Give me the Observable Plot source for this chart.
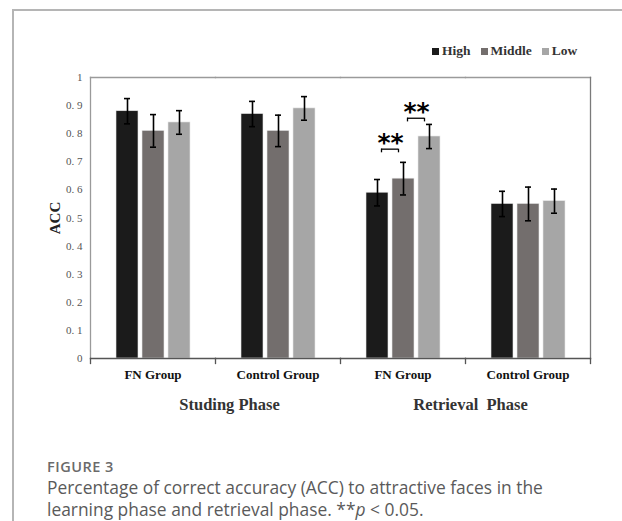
<!DOCTYPE html>
<html><head><meta charset="utf-8">
<script src="https://cdn.jsdelivr.net/npm/d3@7"></script>
<script src="https://cdn.jsdelivr.net/npm/@observablehq/plot@0.6"></script>
<style>
html,body{margin:0;padding:0;background:#fff;}
body{width:622px;height:521px;position:relative;}
#frame{position:absolute;left:12px;top:9px;width:608px;height:510px;border-left:2px solid #b5b5b5;border-top:2px solid #b5b5b5;}
#chart{position:absolute;left:0;top:0;}
#chart text{white-space:pre;}
#legend{position:absolute;left:432px;top:43px;display:flex;align-items:center;font-family:"Liberation Serif",serif;font-weight:bold;font-size:13.5px;color:#333;}
#legend .item{display:flex;align-items:center;margin-right:10px;}
#legend .sw{width:7px;height:7px;margin-right:3px;display:inline-block;}
#fig{position:absolute;left:47px;top:458px;line-height:17px;font-family:"Open Sans",sans-serif;font-weight:600;font-size:14.5px;letter-spacing:0.5px;color:#6a6a6a;}
#cap{position:absolute;left:47px;top:476px;white-space:nowrap;font-family:"Open Sans",sans-serif;font-size:17.4px;line-height:22px;color:#5a5a5a;}
</style>
</head><body>
<div id="frame"></div>
<div id="chart"></div>
<div id="legend"></div>
<div id="fig">FIGURE 3</div>
<div id="cap">Percentage of correct accuracy (ACC) to attractive faces in the<br>learning phase and retrieval phase. **<i>p</i> &lt; 0.05.</div>
<script>
// ---- data ----
const groups = ["S-FN", "S-CG", "R-FN", "R-CG"];
const groupLabels = ["FN Group", "Control Group", "FN Group", "Control Group"];
const levels = ["High", "Middle", "Low"];
const levelColors = ["#1b1b1b", "#736e6d", "#a6a6a6"];
const highValues = [0.88, 0.87, 0.59, 0.55];
const middleValues = [0.81, 0.81, 0.64, 0.55];
const lowValues = [0.84, 0.89, 0.79, 0.56];
const highErr = [0.045, 0.045, 0.047, 0.045];
const middleErr = [0.058, 0.056, 0.058, 0.06];
const lowErr = [0.042, 0.042, 0.043, 0.043];
const phases = ["Studing Phase", "Retrieval  Phase"];
const phaseFirstGroup = ["S-FN", "R-FN"];
const yTicks = [0, 0.1, 0.2, 0.3, 0.4, 0.5, 0.6, 0.7, 0.8, 0.9, 1];
const yTickLabels = ["0", "0. 1", "0. 2", "0. 3", "0. 4", "0. 5", "0. 6", "0. 7", "0. 8", "0. 9", "1"];
const sigGroup = ["R-FN", "R-FN"];
const sigFrom = ["High", "Middle"];
const sigTo = ["Middle", "Low"];
const sigY = [0.745, 0.855];
const sigLabel = ["**", "**"];

// ---- tables ----
const valueSets = [highValues, middleValues, lowValues];
const errSets = [highErr, middleErr, lowErr];
const rows = [];
groups.forEach((g, gi) => levels.forEach((l, li) => rows.push({group: g, level: l, value: valueSets[li][gi], err: errSets[li][gi]})));
const sig = sigGroup.map((g, i) => ({group: g, from: sigFrom[i], to: sigTo[i], y: sigY[i], label: sigLabel[i]}));

const W = 622, H = 420, mT = 77, mB = 62, mL = 90, mR = 32;
const plotH = H - mT - mB;

const chart = Plot.plot({
  width: W, height: H,
  marginLeft: mL, marginRight: mR, marginTop: mT, marginBottom: mB,
  style: {fontFamily: "'Liberation Serif', serif", background: "transparent", overflow: "visible"},
  fx: {domain: groups, padding: 0, axis: null, label: null},
  x: {domain: levels, paddingInner: 0.164, paddingOuter: 0.926, axis: null, label: null},
  y: {domain: [0, 1], axis: null, label: null},
  color: {domain: levels, range: levelColors},
  marks: [
    Plot.barY(rows, {fx: "group", x: "level", y: "value", fill: "level", stroke: "#e8e8e8", strokeWidth: 0.6}),
    Plot.ruleX(rows, {fx: "group", x: "level", y1: d => d.value - d.err, y2: d => d.value + d.err, stroke: "#000", strokeWidth: 1.6}),
    Plot.tickY(rows, {fx: "group", x: "level", y: d => d.value + d.err, insetLeft: 8, insetRight: 8, stroke: "#000", strokeWidth: 1.6}),
    Plot.tickY(rows, {fx: "group", x: "level", y: d => d.value - d.err, insetLeft: 8, insetRight: 8, stroke: "#000", strokeWidth: 1.6}),
    Plot.frame({anchor: "top", stroke: "#9a9a9a", strokeWidth: 1.3}),
    Plot.frame({anchor: "left", facetAnchor: "left", stroke: "#9a9a9a", strokeWidth: 1.3}),
    Plot.frame({anchor: "right", facetAnchor: "right", stroke: "#7a7a7a", strokeWidth: 1.3}),
    Plot.frame({anchor: "bottom", stroke: "#555", strokeWidth: 1.3}),
    Plot.frame({anchor: "left", insetTop: plotH, insetBottom: -5, stroke: "#555", strokeWidth: 1.3}),
    Plot.frame({anchor: "right", facetAnchor: "right", insetTop: plotH, insetBottom: -5, stroke: "#555", strokeWidth: 1.3}),
    Plot.axisY({ticks: yTicks, tickFormat: d => yTickLabels[yTicks.indexOf(d)], tickSize: 0, tickPadding: 8, fontSize: 11, color: "#555", label: null}),
    Plot.axisFx({anchor: "bottom", tickSize: 0, tickPadding: 11, tickFormat: d => groupLabels[groups.indexOf(d)], fontSize: 13, fontWeight: "bold", color: "#111", label: null}),
    Plot.text(["ACC"], {frameAnchor: "left", facetAnchor: "left", textAnchor: "middle", lineAnchor: "middle", rotate: -90, dx: -35, fontSize: 15, fontWeight: "bold", fill: "#222"}),
    Plot.text([phases[0]], {fx: () => phaseFirstGroup[0], frameAnchor: "bottom-right", textAnchor: "middle", lineAnchor: "middle", dx: 14, dy: 46.5, fontSize: 16.5, fontWeight: "bold", fill: "#333"}),
    Plot.text([phases[1]], {fx: () => phaseFirstGroup[1], frameAnchor: "bottom-right", textAnchor: "middle", lineAnchor: "middle", dx: 5, dy: 46.5, fontSize: 16.5, fontWeight: "bold", fill: "#333"}),
    Plot.ruleY(sig, {fx: "group", x1: "from", x2: "to", y: "y", insetLeft: 15, insetRight: 16, stroke: "#000", strokeWidth: 1.3}),
    Plot.ruleX(sig, {fx: "group", x: "from", y1: d => d.y - 0.013, y2: "y", dx: 4, stroke: "#000", strokeWidth: 1.3}),
    Plot.ruleX(sig, {fx: "group", x: "to", y1: d => d.y - 0.013, y2: "y", dx: -5, stroke: "#000", strokeWidth: 1.3}),
    Plot.text(sig, {fx: "group", x: "from", y: "y", text: "label", dx: 13, dy: 2, lineAnchor: "bottom", fontSize: 25, fontWeight: "bold", fontFamily: "DejaVu Sans", fill: "#000"})
  ]
});
document.getElementById("chart").appendChild(chart);

// legend
const legend = document.getElementById("legend");
levels.forEach((l, i) => {
  const item = document.createElement("span");
  item.className = "item";
  const sw = document.createElement("span");
  sw.className = "sw";
  sw.style.background = levelColors[i];
  item.appendChild(sw);
  item.appendChild(document.createTextNode(l));
  legend.appendChild(item);
});
</script>
</body></html>
